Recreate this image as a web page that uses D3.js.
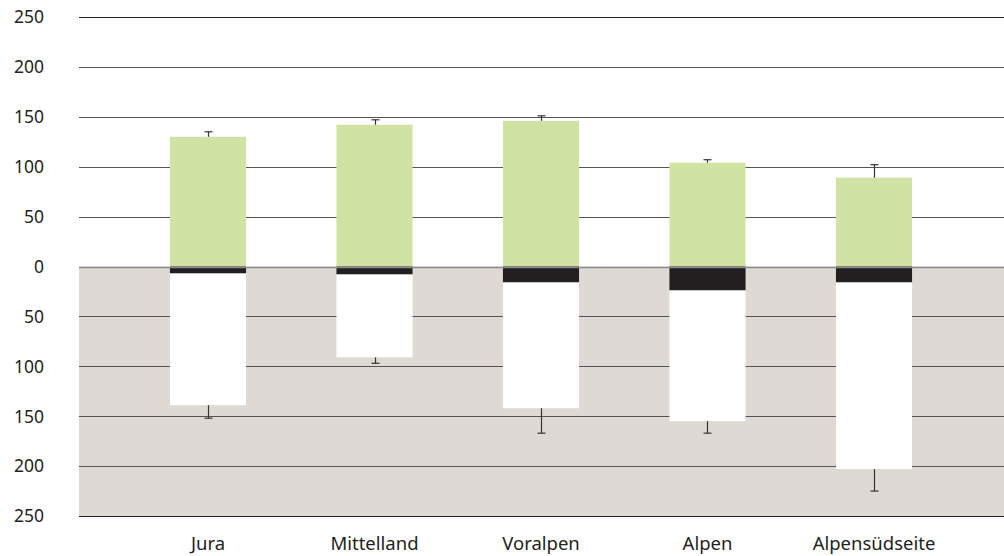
<!DOCTYPE html>
<html><head><meta charset="utf-8">
<script src="https://cdn.jsdelivr.net/npm/d3@7"></script>
<style>body{margin:0;background:#fff}svg{display:block}</style>
</head><body>
<script>
const categories = ["Jura","Mittelland","Voralpen","Alpen","Alpensüdseite"];
const positive = [130,142,146,104,89];
const positiveErr = [135,147,151,107,102];
const negBlack = [7,8,16,24,16];
const negWhite = [132,83,126,131,187];
const negativeErr = [152,97,167,167,225];
const tickValues = [250,200,150,100,50,0,-50,-100,-150,-200,-250];

const W=1004,H=556;
const svg=d3.select("body").append("svg").attr("width",W).attr("height",H);
const y=d3.scaleLinear().domain([-250,250]).range([516,17]);
const x=d3.scaleBand().domain(categories).range([125,957]).paddingInner(0.543).paddingOuter(0.27);
const gx0=79,gx1=1004;
const font="'Noto Sans', 'Open Sans', sans-serif";

// lower background
svg.append("rect").attr("x",gx0).attr("y",y(0)).attr("width",gx1-gx0).attr("height",y(-250)-y(0)).attr("fill","#dfd9d5");

// gridlines
svg.append("g").selectAll("line").data(tickValues.filter(d=>d!==0)).join("line")
  .attr("x1",gx0).attr("x2",gx1).attr("y1",d=>Math.round(y(d))+0.5).attr("y2",d=>Math.round(y(d))+0.5)
  .attr("stroke",d=>Math.abs(d)===250?"#222":"#555").attr("stroke-width",1);

// y labels
svg.append("g").selectAll("text").data(tickValues).join("text")
  .attr("x",44).attr("y",d=>y(d)).attr("dy","0.36em").attr("text-anchor","end")
  .attr("font-family",font).attr("font-size",17.5).attr("fill","#231f20")
  .text(d=>Math.abs(d));

const bw=x.bandwidth();
const cx=c=>x(c)+bw/2;
// positive bars
svg.append("g").selectAll("rect").data(categories).join("rect")
  .attr("x",c=>x(c)).attr("width",bw)
  .attr("y",(c,i)=>y(positive[i])).attr("height",(c,i)=>y(0)-y(positive[i]))
  .attr("fill","#d1e3a3");
// black negative
svg.append("g").selectAll("rect").data(categories).join("rect")
  .attr("x",c=>x(c)).attr("width",bw)
  .attr("y",y(0)).attr("height",(c,i)=>y(-negBlack[i])-y(0))
  .attr("fill","#231f20");
// white negative
svg.append("g").selectAll("rect").data(categories).join("rect")
  .attr("x",c=>x(c)).attr("width",bw)
  .attr("y",(c,i)=>y(-negBlack[i])).attr("height",(c,i)=>y(-negBlack[i]-negWhite[i])-y(-negBlack[i]))
  .attr("fill","#ffffff");

// zero line
svg.append("line").attr("x1",gx0).attr("x2",gx1).attr("y1",Math.round(y(0))+0.5).attr("y2",Math.round(y(0))+0.5)
  .attr("stroke","#8a8a8a").attr("stroke-width",1.5);

// error bars
const eg=svg.append("g").attr("stroke","#333").attr("stroke-width",1.2);
categories.forEach((c,i)=>{
  const px=Math.round(cx(c))+0.5;
  eg.append("line").attr("x1",px).attr("x2",px).attr("y1",y(positive[i])).attr("y2",y(positiveErr[i]));
  eg.append("line").attr("x1",px-4).attr("x2",px+4).attr("y1",y(positiveErr[i])).attr("y2",y(positiveErr[i]));
  const nb=-(negBlack[i]+negWhite[i]);
  eg.append("line").attr("x1",px).attr("x2",px).attr("y1",y(nb)).attr("y2",y(-negativeErr[i]));
  eg.append("line").attr("x1",px-4).attr("x2",px+4).attr("y1",y(-negativeErr[i])).attr("y2",y(-negativeErr[i]));
});

// category labels
svg.append("g").selectAll("text").data(categories).join("text")
  .attr("x",c=>cx(c)).attr("y",550).attr("text-anchor","middle")
  .attr("font-family",font).attr("font-size",18.5).attr("fill","#231f20")
  .text(c=>c);
</script>
</body></html>
